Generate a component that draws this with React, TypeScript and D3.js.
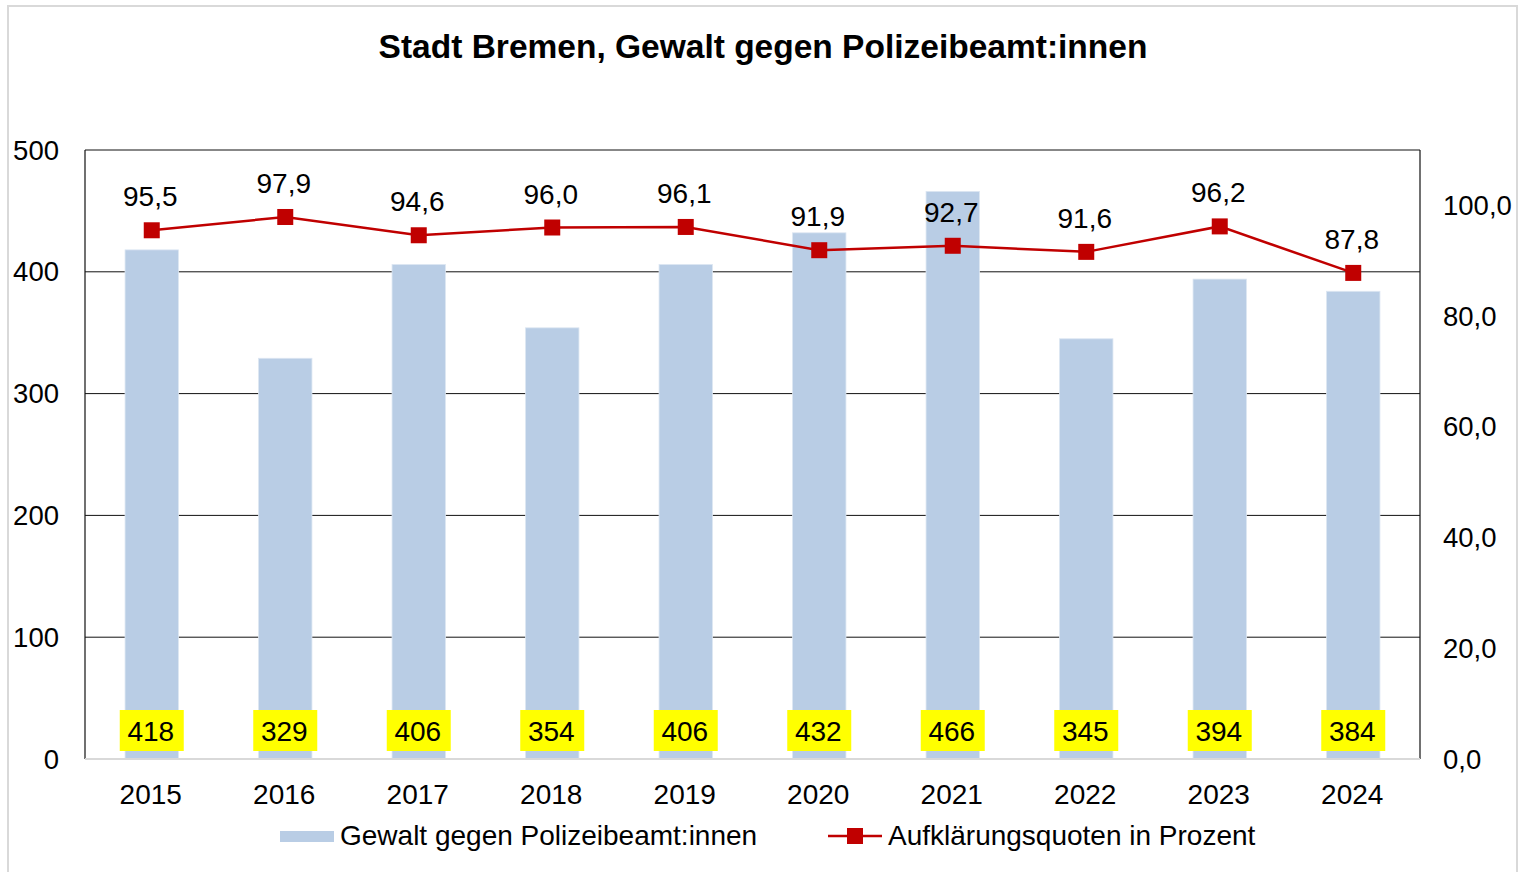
import React from "react";
import * as d3 from "d3";

const years = ["2015", "2016", "2017", "2018", "2019", "2020", "2021", "2022", "2023", "2024"];
const counts = [418, 329, 406, 354, 406, 432, 466, 345, 394, 384];
const rates = [95.5, 97.9, 94.6, 96.0, 96.1, 91.9, 92.7, 91.6, 96.2, 87.8];
const leftTicks = [0, 100, 200, 300, 400, 500];
const rightTicks = [0, 20, 40, 60, 80, 100];
const title = "Stadt Bremen, Gewalt gegen Polizeibeamt:innen";
const seriesBar = "Gewalt gegen Polizeibeamt:innen";
const seriesLine = "Aufklärungsquoten in Prozent";

const W = 1520;
const H = 872;
const plot = { left: 85, right: 1420, top: 150, bottom: 759 };
const FONT = "'Liberation Sans', Arial, sans-serif";
const fmt = (v: number) => v.toFixed(1).replace(".", ",");

export default function App() {
  const x = d3
    .scaleBand<string>()
    .domain(years)
    .range([plot.left, plot.right])
    .paddingInner(0.6)
    .paddingOuter(0.3);
  const yL = d3.scaleLinear().domain([0, 500]).range([plot.bottom, plot.top]);
  const yR = d3.scaleLinear().domain([0, 110]).range([plot.bottom, plot.top]);
  const cx = (d: string) => (x(d) as number) + x.bandwidth() / 2;
  const line = d3
    .line<number>()
    .x((_, i) => cx(years[i]))
    .y((v) => yR(v));

  return (
    <svg
      width={W}
      height={H}
      style={{ position: "absolute", left: 0, top: 0, background: "#fff" }}
      fontFamily={FONT}
    >
      <rect x={0} y={0} width={W} height={H} fill="#fff" />
      <rect x={8} y={6} width={1509} height={900} fill="#fff" stroke="#d9d9d9" strokeWidth={2} />
      <text x={763} y={58} textAnchor="middle" fontSize={33.5} fontWeight="bold" fill="#000">
        {title}
      </text>

      {/* gridlines */}
      {leftTicks
        .filter((t) => t > 0 && t < 500)
        .map((t) => (
          <line key={t} x1={plot.left} x2={plot.right} y1={yL(t)} y2={yL(t)} stroke="#111" strokeWidth={1} />
        ))}

      {/* bars */}
      {counts.map((v, i) => (
        <rect
          key={years[i]}
          x={x(years[i])}
          y={yL(v)}
          width={x.bandwidth()}
          height={plot.bottom - yL(v)}
          fill="#b9cde5"
          stroke="#dce6f2"
          strokeWidth={0.8}
        />
      ))}

      {/* frame */}
      <line x1={plot.left} x2={plot.right} y1={plot.top} y2={plot.top} stroke="#111" strokeWidth={1} />
      <line x1={plot.left} x2={plot.left} y1={plot.top} y2={plot.bottom} stroke="#111" strokeWidth={1.2} />
      <line x1={plot.right} x2={plot.right} y1={plot.top} y2={plot.bottom} stroke="#111" strokeWidth={1.2} />
      <line x1={plot.left} x2={plot.right} y1={plot.bottom} y2={plot.bottom} stroke="#d9d9d9" strokeWidth={2} />

      {/* left axis labels */}
      {leftTicks.map((t) => (
        <text key={t} x={59} y={yL(t) + 9.5} textAnchor="end" fontSize={27.5} fill="#000">
          {t}
        </text>
      ))}
      {/* right axis labels */}
      {rightTicks.map((t) => (
        <text key={t} x={1443} y={yR(t) + 9.5} textAnchor="start" fontSize={27.5} fill="#000">
          {fmt(t)}
        </text>
      ))}

      {/* year labels */}
      {years.map((yr) => (
        <text key={yr} x={cx(yr) - 1} y={804} textAnchor="middle" fontSize={28} fill="#000">
          {yr}
        </text>
      ))}

      {/* bar value boxes */}
      {counts.map((v, i) => (
        <g key={"b" + i}>
          <rect x={cx(years[i]) - 32} y={710} width={64} height={41} fill="#ffff00" />
          <text x={cx(years[i]) - 1} y={741} textAnchor="middle" fontSize={28} fill="#000">
            {v}
          </text>
        </g>
      ))}

      {/* line */}
      <path d={line(rates) || ""} fill="none" stroke="#c00000" strokeWidth={2.5} />
      {rates.map((v, i) => (
        <rect key={"m" + i} x={cx(years[i]) - 8} y={yR(v) - 8} width={16} height={16} fill="#c00000" />
      ))}
      {rates.map((v, i) => (
        <text key={"l" + i} x={cx(years[i]) - 1.5} y={yR(v) - 24} textAnchor="middle" fontSize={28} fill="#000">
          {fmt(v)}
        </text>
      ))}

      {/* legend */}
      <rect x={280} y={831} width={54} height={11} fill="#b9cde5" />
      <text x={340} y={845} fontSize={28} fill="#000">
        {seriesBar}
      </text>
      <line x1={828} x2={882} y1={836} y2={836} stroke="#c00000" strokeWidth={2.5} />
      <rect x={847} y={828} width={16} height={16} fill="#c00000" />
      <text x={888} y={845} fontSize={28} fill="#000">
        {seriesLine}
      </text>
    </svg>
  );
}
